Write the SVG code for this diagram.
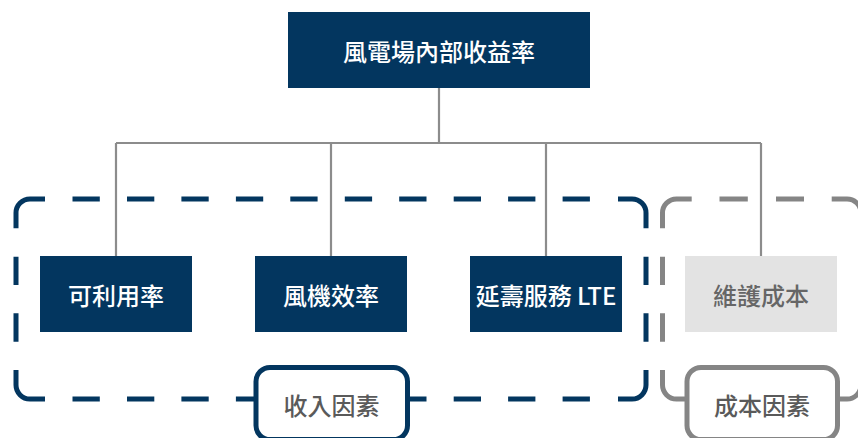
<svg xmlns="http://www.w3.org/2000/svg" width="858" height="438" viewBox="0 0 858 438">
  <style>
    .nb { fill: #03365F; }
    .ng { fill: #E3E3E3; }
    .t { font-family: "Noto Sans CJK TC", "Noto Sans CJK SC", sans-serif; font-size: 24px; font-weight: 500; text-anchor: middle; dominant-baseline: central; }
    .tw { fill: #FFFFFF; }
    .tg { fill: #666666; }
    .tl { fill: #5A5A5A; }
    .conn { stroke: #8C8C8C; stroke-width: 2.2; fill: none; }
    .db { stroke: #03365F; stroke-width: 5; fill: none; }
    .dg { stroke: #858585; stroke-width: 5; fill: none; }
    .lb { fill: #FFFFFF; stroke: #03365F; stroke-width: 5; }
    .lg { fill: #FFFFFF; stroke: #858585; stroke-width: 5; }
  </style>
  <rect width="858" height="438" fill="#FFFFFF"/>

  <g id="connectors">
    <path class="conn" d="M439,88 V143 M116,143 H761 M116,143 V256 M331,143 V256 M546,143 V256 M761,143 V256"/>
  </g>

  <g id="group-revenue">
    <path class="db" d="M16,228.3 V213 A14,14 0 0 1 30,199 H45
      M72.5,199 H99.8 M127,199 H154.3 M181.4,199 H208.7 M235.9,199 H263.2 M290.3,199 H317.6 M344.8,199 H372.1 M399.2,199 H426.5 M453.7,199 H481 M508.1,199 H535.4 M562.6,199 H589.9
      M618,199 H632 A14,14 0 0 1 646,213 V228.3
      M646,256.7 V285 M646,313.3 V341.7
      M646,370 V385 A14,14 0 0 1 632,399 H618
      M72.5,399 H99.8 M127,399 H154.3 M181.4,399 H208.7 M235.9,399 H263.2 M290.3,399 H317.6 M344.8,399 H372.1 M399.2,399 H426.5 M453.7,399 H481 M508.1,399 H535.4 M562.6,399 H589.9
      M45,399 H30 A14,14 0 0 1 16,385 V370
      M16,256.7 V285 M16,313.3 V341.7"/>
  </g>

  <g id="group-cost">
    <path class="dg" d="M662.5,228.3 V213 A14,14 0 0 1 676.5,199 H691.7
      M719.5,199 H747.8 M776,199 H804
      M831.7,199 H847 A14,14 0 0 1 861,213 V228.3
      M861,256.7 V285 M861,313.3 V341.7
      M861,370 V385 A14,14 0 0 1 847,399 H831.7
      M719.5,399 H747.8 M776,399 H804
      M691.7,399 H676.5 A14,14 0 0 1 662.5,385 V370
      M662.5,256.7 V285 M662.5,313.3 V341.7"/>
  </g>

  <g id="root">
    <rect class="nb" x="288" y="12" width="302" height="76"/>
    <text class="t tw" x="439" y="50">風電場內部收益率</text>
  </g>

  <g id="availability">
    <rect class="nb" x="40" y="256" width="152" height="76"/>
    <text class="t tw" x="116" y="294">可利用率</text>
  </g>

  <g id="turbine-efficiency">
    <rect class="nb" x="255" y="256" width="152" height="76"/>
    <text class="t tw" x="331" y="294">風機效率</text>
  </g>

  <g id="lte">
    <rect class="nb" x="470" y="256" width="152" height="76"/>
    <text class="t tw" x="546" y="294">延壽服務 LTE</text>
  </g>

  <g id="maintenance-cost">
    <rect class="ng" x="685" y="256" width="152" height="76"/>
    <text class="t tg" x="761" y="294">維護成本</text>
  </g>

  <g id="label-revenue">
    <rect class="lb" x="256" y="367.5" width="151.5" height="72" rx="14"/>
    <text class="t tl" x="331.5" y="404">收入因素</text>
  </g>

  <g id="label-cost">
    <rect class="lg" x="687" y="367.5" width="150.5" height="72" rx="14"/>
    <text class="t tl" x="762" y="404">成本因素</text>
  </g>
</svg>
